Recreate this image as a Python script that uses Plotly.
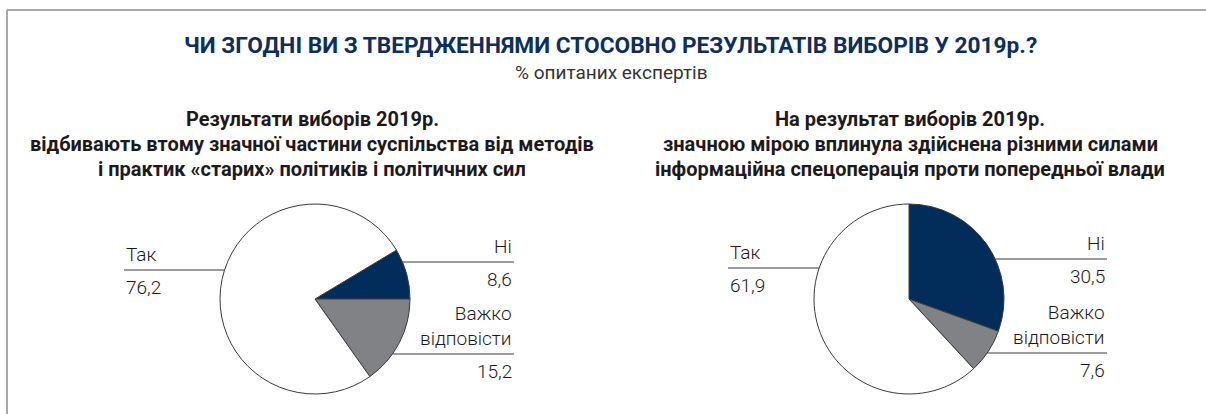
import math
import plotly.graph_objects as go

W, H = 1206, 414

# Survey data
categories = ["Ні", "Важко відповісти", "Так"]
values_left = [8.6, 15.2, 76.2]
values_right = [30.5, 7.6, 61.9]
value_labels_left = ["8,6", "15,2", "76,2"]
value_labels_right = ["30,5", "7,6", "61,9"]

title = "ЧИ ЗГОДНІ ВИ З ТВЕРДЖЕННЯМИ СТОСОВНО РЕЗУЛЬТАТІВ ВИБОРІВ У 2019р.?"
subtitle = "% опитаних експертів"
pie_titles = [
    ["Результати виборів 2019р.",
     "відбивають втому значної частини суспільства від методів",
     "і практик «старих» політиків і політичних сил"],
    ["На результат виборів 2019р.",
     "значною мірою вплинула здійснена різними силами",
     "інформаційна спецоперація проти попередньої влади"],
]

NAVY = "#022c5a"
GREY = "#808285"
WHITE = "#ffffff"
EDGE = "#3a3a3a"
TEXT = "#1e1a1b"
FONT = "Roboto"


def px(x):
    return x / W


def py(y):
    return 1 - y / H


# pie geometry in pixels: centre x, centre y, radius
pies = [
    dict(cx=315, cy=299, r=95, values=values_left, labels=value_labels_left,
         tcx=312, lab_left=124, lab_right=514, y_yes=270, y_no=262, y_hard=354),
    dict(cx=909, cy=299, r=95, values=values_right, labels=value_labels_right,
         tcx=910, lab_left=728, lab_right=1107, y_yes=268, y_no=259, y_hard=353),
]

fig = go.Figure()
shapes = []
annotations = []

for p in pies:
    vals = p["values"]
    # first slice ("Ні") ends at 3 o'clock in the left pie, starts at 12 in the right
    no_deg = vals[0] / sum(vals) * 360
    rotation = 90 - no_deg if p is pies[0] else 0
    fig.add_trace(go.Pie(
        labels=categories,
        values=vals,
        sort=False,
        direction="clockwise",
        rotation=rotation,
        textinfo="none",
        hoverinfo="label+value",
        marker=dict(colors=[NAVY, GREY, WHITE], line=dict(color=EDGE, width=1)),
        domain=dict(x=[px(p["cx"] - p["r"]), px(p["cx"] + p["r"])],
                    y=[py(p["cy"] + p["r"]), py(p["cy"] - p["r"])]),
        showlegend=False,
    ))

    cx, cy, r = p["cx"], p["cy"], p["r"]

    def edge_x(y, side):
        dx = math.sqrt(max(r * r - (y - cy) ** 2, 0))
        return cx + side * dx

    lab_font = dict(family=FONT, size=19, color=TEXT, weight=300)

    # "Так" on the left
    y = p["y_yes"]
    shapes.append(dict(type="line", xref="paper", yref="paper",
                       x0=px(p["lab_left"]), x1=px(edge_x(y, -1)), y0=py(y), y1=py(y),
                       line=dict(color=EDGE, width=1)))
    annotations.append(dict(text="Так", x=px(p["lab_left"]), y=py(y - 2), xanchor="left",
                            yanchor="bottom", showarrow=False, font=lab_font))
    annotations.append(dict(text=p["labels"][2], x=px(p["lab_left"]), y=py(y + 4), xanchor="left",
                            yanchor="top", showarrow=False, font=lab_font))

    # "Ні" on the right
    y = p["y_no"]
    shapes.append(dict(type="line", xref="paper", yref="paper",
                       x0=px(edge_x(y, 1)), x1=px(p["lab_right"]), y0=py(y), y1=py(y),
                       line=dict(color=EDGE, width=1)))
    annotations.append(dict(text="Ні", x=px(p["lab_right"]), y=py(y - 2), xanchor="right",
                            yanchor="bottom", showarrow=False, font=lab_font))
    annotations.append(dict(text=p["labels"][0], x=px(p["lab_right"]), y=py(y + 4), xanchor="right",
                            yanchor="top", showarrow=False, font=lab_font))

    # "Важко відповісти" on the right
    y = p["y_hard"]
    shapes.append(dict(type="line", xref="paper", yref="paper",
                       x0=px(edge_x(y, 1)), x1=px(p["lab_right"]), y0=py(y), y1=py(y),
                       line=dict(color=EDGE, width=1)))
    annotations.append(dict(text="Важко<br>відповісти", x=px(p["lab_right"]), y=py(y - 2),
                            xanchor="right", yanchor="bottom", align="right",
                            showarrow=False, font=lab_font))
    annotations.append(dict(text=p["labels"][1], x=px(p["lab_right"]), y=py(y + 4), xanchor="right",
                            yanchor="top", showarrow=False, font=lab_font))

# pie headings
for p, lines in zip(pies, pie_titles):
    for i, line in enumerate(lines):
        annotations.append(dict(text=line, x=px(p["tcx"]), y=py(119 + 25 * i), xanchor="center",
                                yanchor="middle", showarrow=False,
                                font=dict(family=FONT, size=20, color=TEXT, weight=700)))

# main heading and subtitle
annotations.append(dict(text=title, x=px(610), y=py(45), xanchor="center", yanchor="middle",
                        showarrow=False, font=dict(family=FONT, size=22.7, color="#0d2f5e", weight=700)))
annotations.append(dict(text=subtitle, x=px(611), y=py(72), xanchor="center", yanchor="middle",
                        showarrow=False, font=dict(family=FONT, size=19, color="#333333", weight=400)))

# frame: top rule and left rule
shapes.append(dict(type="line", xref="paper", yref="paper", x0=px(7), x1=1, y0=py(10), y1=py(10),
                   line=dict(color="#8c8c8c", width=1.5)))
shapes.append(dict(type="line", xref="paper", yref="paper", x0=px(7), x1=px(7), y0=py(10), y1=0,
                   line=dict(color="#8c8c8c", width=1.5)))

fig.update_layout(
    width=W, height=H,
    margin=dict(l=0, r=0, t=0, b=0),
    paper_bgcolor="white",
    plot_bgcolor="white",
    shapes=shapes,
    annotations=annotations,
)

fig.write_html("out.html")
